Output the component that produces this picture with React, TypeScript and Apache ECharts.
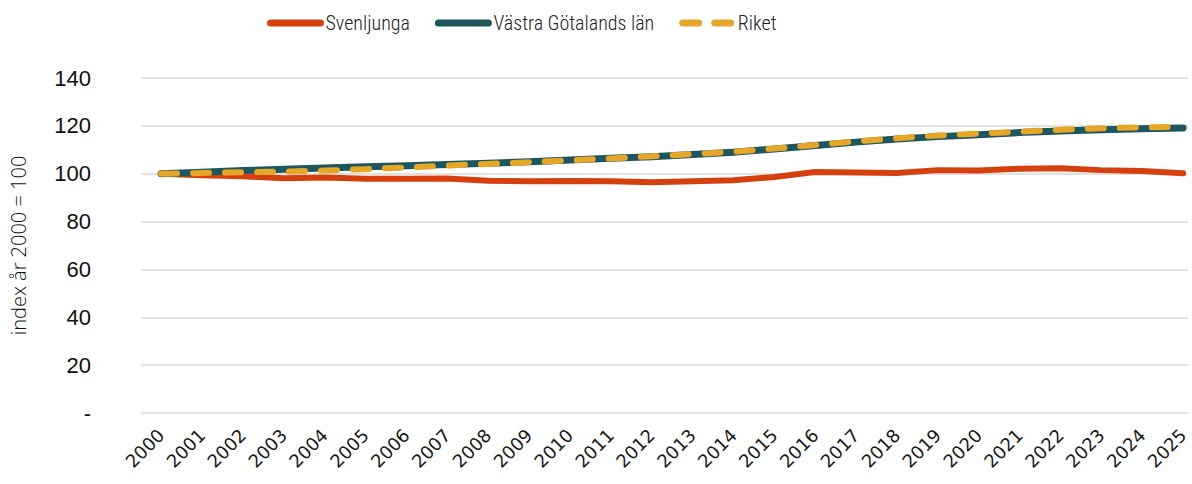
import React, { useEffect, useRef } from "react";
import * as echarts from "echarts";

const years = [2000, 2001, 2002, 2003, 2004, 2005, 2006, 2007, 2008, 2009, 2010, 2011, 2012, 2013, 2014, 2015, 2016, 2017, 2018, 2019, 2020, 2021, 2022, 2023, 2024, 2025];
const svenljunga = [100, 99.4, 98.9, 98.1, 98.4, 97.9, 97.9, 98.0, 97.1, 96.8, 97.0, 96.8, 96.4, 96.9, 97.3, 98.6, 100.7, 100.5, 100.3, 101.5, 101.3, 102.1, 102.3, 101.5, 101.1, 100.2];
const vastraGotaland = [100, 100.6, 101.3, 101.9, 102.4, 102.9, 103.3, 103.9, 104.4, 105.0, 105.7, 106.5, 107.1, 108.0, 109.0, 110.3, 111.8, 113.2, 114.5, 115.5, 116.3, 117.2, 117.8, 118.4, 118.8, 119.1];
const riket = [100, 100.3, 100.6, 100.9, 101.3, 101.9, 102.6, 103.4, 104.1, 104.8, 105.6, 106.4, 107.3, 108.2, 109.2, 110.5, 112.0, 113.5, 114.8, 116.0, 116.8, 117.6, 118.4, 119.0, 119.4, 119.6];
const seriesNames = ["Svenljunga", "Västra Götalands län", "Riket"];

const pairs = (vals: number[]) => years.map((y, i) => [y, vals[i]]);

export default function App() {
  const ref = useRef<HTMLDivElement>(null);
  useEffect(() => {
    if (!ref.current) return;
    const chart = echarts.init(ref.current, undefined, { renderer: "svg" });
    chart.setOption({
      animation: false,
      legend: {
        top: 8,
        left: 262,
        itemWidth: 50,
        itemHeight: 10,
        itemGap: 25,
        lineStyle: { width: 7 },
        itemStyle: { opacity: 0 },
        textStyle: {
          fontFamily: "'Liberation Sans Narrow', 'Roboto Condensed', 'Open Sans', sans-serif",
          fontSize: 20,
          fontWeight: 300,
          color: "#222",
        },
        data: seriesNames,
      },
      grid: { left: 140, right: 4, top: 78, bottom: 71, containLabel: false },
      xAxis: {
        type: "value",
        min: 1999.51,
        max: 2025.12,
        axisLine: { show: false },
        axisTick: { show: false },
        splitLine: { show: false },
        axisLabel: {
          customValues: years,
          rotate: 45,
          margin: 19,
          fontFamily: "'DejaVu Sans', sans-serif",
          fontSize: 18,
          color: "#1a1a1a",
          formatter: (v: number) => String(v),
        },
      },
      yAxis: {
        type: "value",
        min: 0,
        max: 140,
        interval: 20,
        name: "index år 2000 = 100",
        nameLocation: "middle",
        nameRotate: 90,
        nameGap: 113,
        nameTextStyle: {
          fontFamily: "'Open Sans', sans-serif",
          fontWeight: 300,
          fontSize: 20,
          color: "#111",
        },
        axisLine: { show: false },
        axisTick: { show: false },
        splitLine: { lineStyle: { color: "#d9d9d9", width: 1.5 } },
        axisLabel: {
          margin: 50,
          fontFamily: "'Liberation Sans', Arial, sans-serif",
          fontSize: 22,
          color: "#111",
          formatter: (v: number) => (v === 0 ? "-" : String(v)),
        },
      },
      series: [
        {
          name: seriesNames[0],
          type: "line",
          data: pairs(svenljunga),
          symbol: "none",
          lineStyle: { color: "#d6400f", width: 6, cap: "round", join: "round" },
          itemStyle: { color: "#d6400f" },
        },
        {
          name: seriesNames[1],
          type: "line",
          data: pairs(vastraGotaland),
          symbol: "none",
          lineStyle: { color: "#1e565e", width: 7, cap: "round", join: "round" },
          itemStyle: { color: "#1e565e" },
        },
        {
          name: seriesNames[2],
          type: "line",
          data: pairs(riket),
          symbol: "none",
          lineStyle: { color: "#e6a628", width: 6, type: [16, 16], cap: "round", join: "round" },
          itemStyle: { color: "#e6a628" },
        },
      ],
    });
    return () => chart.dispose();
  }, []);
  return <div ref={ref} style={{ width: 1192, height: 484, position: "absolute", left: 0, top: 0 }} />;
}
